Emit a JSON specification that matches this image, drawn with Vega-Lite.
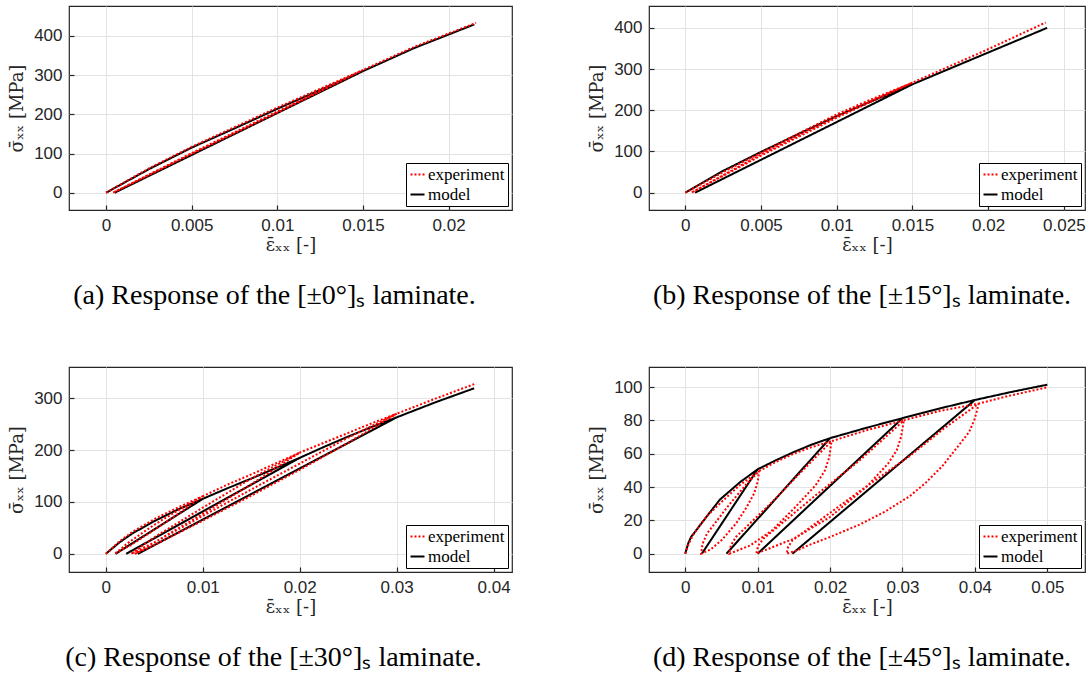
{
  "$schema": "https://vega.github.io/schema/vega-lite/v6.json",
  "background": "white",
  "padding": {"left": 8, "top": 5, "right": 5, "bottom": 5},
  "config": {
    "view": {"stroke": "#262626", "strokeWidth": 1.2},
    "axis": {
      "labelFont": "Liberation Sans", "labelFontSize": 17, "labelColor": "#262626",
      "titleFont": "DejaVu Serif", "titleFontSize": 18, "titleFontWeight": "normal", "titleColor": "#262626",
      "gridColor": "#e3e3e3", "gridWidth": 1, "domain": false,
      "tickColor": "#262626", "tickWidth": 1.2, "tickSize": -5, "labelPadding": 12
    },
    "axisX": {"titlePadding": 3},
    "axisY": {"titlePadding": 7},
    "legend": {
      "orient": "bottom-right", "offset": 4, "strokeColor": "#000", "fillColor": "#fff", "padding": 3,
      "labelFont": "Liberation Serif", "labelFontSize": 17, "labelColor": "#000",
      "symbolType": "stroke", "symbolSize": 196, "symbolStrokeWidth": 2, "rowPadding": 2, "labelOffset": 2
    },
    "title": {"font": "Liberation Serif", "fontSize": 28, "fontWeight": "normal", "color": "#000", "orient": "bottom", "offset": 28}
  },
  "datasets": {
    "a": [
      {"s": "model", "i": 1, "x": 0, "y": 0},
      {"s": "model", "i": 2, "x": 0.0025, "y": 60},
      {"s": "model", "i": 3, "x": 0.005, "y": 115},
      {"s": "model", "i": 4, "x": 0.0075, "y": 164},
      {"s": "model", "i": 5, "x": 0.01, "y": 214},
      {"s": "model", "i": 6, "x": 0.0125, "y": 262},
      {"s": "model", "i": 7, "x": 0.015, "y": 310},
      {"s": "model", "i": 8, "x": 0.0005, "y": 0},
      {"s": "model", "i": 9, "x": 0.015, "y": 310},
      {"s": "model", "i": 10, "x": 0.018, "y": 369},
      {"s": "model", "i": 11, "x": 0.0215, "y": 429},
      {"s": "experiment", "i": 1, "x": 0, "y": 0},
      {"s": "experiment", "i": 2, "x": 0.0025, "y": 62},
      {"s": "experiment", "i": 3, "x": 0.005, "y": 117},
      {"s": "experiment", "i": 4, "x": 0.0075, "y": 167},
      {"s": "experiment", "i": 5, "x": 0.01, "y": 217},
      {"s": "experiment", "i": 6, "x": 0.0125, "y": 265},
      {"s": "experiment", "i": 7, "x": 0.015, "y": 313},
      {"s": "experiment", "i": 8, "x": 0.01, "y": 204},
      {"s": "experiment", "i": 9, "x": 0.005, "y": 99},
      {"s": "experiment", "i": 10, "x": 0.0004, "y": 0},
      {"s": "experiment", "i": 11, "x": 0.005, "y": 101},
      {"s": "experiment", "i": 12, "x": 0.01, "y": 207},
      {"s": "experiment", "i": 13, "x": 0.015, "y": 313},
      {"s": "experiment", "i": 14, "x": 0.018, "y": 372},
      {"s": "experiment", "i": 15, "x": 0.0216, "y": 433}
    ],
    "b": [
      {"s": "model", "i": 1, "x": 0, "y": 0},
      {"s": "model", "i": 2, "x": 0.0025, "y": 53},
      {"s": "model", "i": 3, "x": 0.005, "y": 99},
      {"s": "model", "i": 4, "x": 0.0075, "y": 143},
      {"s": "model", "i": 5, "x": 0.01, "y": 186},
      {"s": "model", "i": 6, "x": 0.0125, "y": 225},
      {"s": "model", "i": 7, "x": 0.015, "y": 263},
      {"s": "model", "i": 8, "x": 0.00064, "y": 0},
      {"s": "model", "i": 9, "x": 0.015, "y": 263},
      {"s": "model", "i": 10, "x": 0.02, "y": 340},
      {"s": "model", "i": 11, "x": 0.0239, "y": 400},
      {"s": "experiment", "i": 1, "x": 0, "y": 0},
      {"s": "experiment", "i": 2, "x": 0.0025, "y": 50},
      {"s": "experiment", "i": 3, "x": 0.005, "y": 97},
      {"s": "experiment", "i": 4, "x": 0.0075, "y": 144},
      {"s": "experiment", "i": 5, "x": 0.01, "y": 190},
      {"s": "experiment", "i": 6, "x": 0.0125, "y": 230},
      {"s": "experiment", "i": 7, "x": 0.015, "y": 267},
      {"s": "experiment", "i": 8, "x": 0.01, "y": 182},
      {"s": "experiment", "i": 9, "x": 0.005, "y": 90},
      {"s": "experiment", "i": 10, "x": 0.0004, "y": 0},
      {"s": "experiment", "i": 11, "x": 0.005, "y": 93},
      {"s": "experiment", "i": 12, "x": 0.01, "y": 185},
      {"s": "experiment", "i": 13, "x": 0.015, "y": 267},
      {"s": "experiment", "i": 14, "x": 0.02, "y": 348},
      {"s": "experiment", "i": 15, "x": 0.0238, "y": 413}
    ],
    "c": [
      {"s": "model", "i": 1, "x": 0, "y": 0},
      {"s": "model", "i": 2, "x": 0.0014, "y": 22},
      {"s": "model", "i": 3, "x": 0.0028, "y": 40},
      {"s": "model", "i": 4, "x": 0.005, "y": 63},
      {"s": "model", "i": 5, "x": 0.0075, "y": 86},
      {"s": "model", "i": 6, "x": 0.01, "y": 106},
      {"s": "model", "i": 7, "x": 0.001, "y": 0},
      {"s": "model", "i": 8, "x": 0.01, "y": 106},
      {"s": "model", "i": 9, "x": 0.0125, "y": 126},
      {"s": "model", "i": 10, "x": 0.015, "y": 145},
      {"s": "model", "i": 11, "x": 0.0175, "y": 165},
      {"s": "model", "i": 12, "x": 0.02, "y": 185},
      {"s": "model", "i": 13, "x": 0.0021, "y": 0},
      {"s": "model", "i": 14, "x": 0.02, "y": 185},
      {"s": "model", "i": 15, "x": 0.0225, "y": 206},
      {"s": "model", "i": 16, "x": 0.025, "y": 226},
      {"s": "model", "i": 17, "x": 0.0275, "y": 245},
      {"s": "model", "i": 18, "x": 0.03, "y": 263},
      {"s": "model", "i": 19, "x": 0.0033, "y": 0},
      {"s": "model", "i": 20, "x": 0.03, "y": 263},
      {"s": "model", "i": 21, "x": 0.034, "y": 292},
      {"s": "model", "i": 22, "x": 0.038, "y": 319},
      {"s": "experiment", "i": 1, "x": 0, "y": 0},
      {"s": "experiment", "i": 2, "x": 0.0014, "y": 24},
      {"s": "experiment", "i": 3, "x": 0.0028, "y": 43},
      {"s": "experiment", "i": 4, "x": 0.005, "y": 67},
      {"s": "experiment", "i": 5, "x": 0.0075, "y": 90},
      {"s": "experiment", "i": 6, "x": 0.01, "y": 111},
      {"s": "experiment", "i": 7, "x": 0.008, "y": 84},
      {"s": "experiment", "i": 8, "x": 0.005, "y": 46},
      {"s": "experiment", "i": 9, "x": 0.0025, "y": 16},
      {"s": "experiment", "i": 10, "x": 0.0009, "y": 0},
      {"s": "experiment", "i": 11, "x": 0.0025, "y": 24},
      {"s": "experiment", "i": 12, "x": 0.005, "y": 56},
      {"s": "experiment", "i": 13, "x": 0.008, "y": 90},
      {"s": "experiment", "i": 14, "x": 0.01, "y": 111},
      {"s": "experiment", "i": 15, "x": 0.0125, "y": 133},
      {"s": "experiment", "i": 16, "x": 0.015, "y": 153},
      {"s": "experiment", "i": 17, "x": 0.0175, "y": 174},
      {"s": "experiment", "i": 18, "x": 0.02, "y": 195},
      {"s": "experiment", "i": 19, "x": 0.015, "y": 134},
      {"s": "experiment", "i": 20, "x": 0.01, "y": 77},
      {"s": "experiment", "i": 21, "x": 0.005, "y": 22},
      {"s": "experiment", "i": 22, "x": 0.0026, "y": 0},
      {"s": "experiment", "i": 23, "x": 0.005, "y": 32},
      {"s": "experiment", "i": 24, "x": 0.01, "y": 89},
      {"s": "experiment", "i": 25, "x": 0.015, "y": 145},
      {"s": "experiment", "i": 26, "x": 0.02, "y": 195},
      {"s": "experiment", "i": 27, "x": 0.0225, "y": 214},
      {"s": "experiment", "i": 28, "x": 0.025, "y": 233},
      {"s": "experiment", "i": 29, "x": 0.0275, "y": 252},
      {"s": "experiment", "i": 30, "x": 0.03, "y": 270},
      {"s": "experiment", "i": 31, "x": 0.025, "y": 214},
      {"s": "experiment", "i": 32, "x": 0.02, "y": 162},
      {"s": "experiment", "i": 33, "x": 0.015, "y": 112},
      {"s": "experiment", "i": 34, "x": 0.01, "y": 64},
      {"s": "experiment", "i": 35, "x": 0.005, "y": 17},
      {"s": "experiment", "i": 36, "x": 0.003, "y": 0},
      {"s": "experiment", "i": 37, "x": 0.005, "y": 22},
      {"s": "experiment", "i": 38, "x": 0.01, "y": 73},
      {"s": "experiment", "i": 39, "x": 0.015, "y": 124},
      {"s": "experiment", "i": 40, "x": 0.02, "y": 174},
      {"s": "experiment", "i": 41, "x": 0.025, "y": 224},
      {"s": "experiment", "i": 42, "x": 0.03, "y": 270},
      {"s": "experiment", "i": 43, "x": 0.034, "y": 299},
      {"s": "experiment", "i": 44, "x": 0.038, "y": 327}
    ],
    "d": [
      {"s": "model", "i": 1, "x": 0, "y": 0},
      {"s": "model", "i": 2, "x": 0.0004, "y": 6},
      {"s": "model", "i": 3, "x": 0.0008, "y": 10},
      {"s": "model", "i": 4, "x": 0.0016, "y": 14.5},
      {"s": "model", "i": 5, "x": 0.003, "y": 22.5},
      {"s": "model", "i": 6, "x": 0.0048, "y": 32.5},
      {"s": "model", "i": 7, "x": 0.0076, "y": 43},
      {"s": "model", "i": 8, "x": 0.01, "y": 50.6},
      {"s": "model", "i": 9, "x": 0.0023, "y": 0},
      {"s": "model", "i": 10, "x": 0.01, "y": 50.6},
      {"s": "model", "i": 11, "x": 0.0125, "y": 56},
      {"s": "model", "i": 12, "x": 0.015, "y": 61},
      {"s": "model", "i": 13, "x": 0.0175, "y": 65.5},
      {"s": "model", "i": 14, "x": 0.02, "y": 69.3},
      {"s": "model", "i": 15, "x": 0.0057, "y": 0},
      {"s": "model", "i": 16, "x": 0.02, "y": 69.3},
      {"s": "model", "i": 17, "x": 0.025, "y": 75.5},
      {"s": "model", "i": 18, "x": 0.03, "y": 81.3},
      {"s": "model", "i": 19, "x": 0.01, "y": 0},
      {"s": "model", "i": 20, "x": 0.03, "y": 81.3},
      {"s": "model", "i": 21, "x": 0.035, "y": 87},
      {"s": "model", "i": 22, "x": 0.04, "y": 92.2},
      {"s": "model", "i": 23, "x": 0.0148, "y": 0},
      {"s": "model", "i": 24, "x": 0.04, "y": 92.2},
      {"s": "model", "i": 25, "x": 0.045, "y": 97},
      {"s": "model", "i": 26, "x": 0.05, "y": 101.4},
      {"s": "experiment", "i": 1, "x": 0, "y": 0},
      {"s": "experiment", "i": 2, "x": 0.0005, "y": 6},
      {"s": "experiment", "i": 3, "x": 0.001, "y": 10.5},
      {"s": "experiment", "i": 4, "x": 0.002, "y": 17},
      {"s": "experiment", "i": 5, "x": 0.003, "y": 22.5},
      {"s": "experiment", "i": 6, "x": 0.005, "y": 31},
      {"s": "experiment", "i": 7, "x": 0.0075, "y": 41},
      {"s": "experiment", "i": 8, "x": 0.0102, "y": 49.5},
      {"s": "experiment", "i": 9, "x": 0.01, "y": 43},
      {"s": "experiment", "i": 10, "x": 0.0095, "y": 36},
      {"s": "experiment", "i": 11, "x": 0.0085, "y": 28},
      {"s": "experiment", "i": 12, "x": 0.007, "y": 18},
      {"s": "experiment", "i": 13, "x": 0.005, "y": 8},
      {"s": "experiment", "i": 14, "x": 0.0035, "y": 2.5},
      {"s": "experiment", "i": 15, "x": 0.0022, "y": 0},
      {"s": "experiment", "i": 16, "x": 0.0024, "y": 6},
      {"s": "experiment", "i": 17, "x": 0.003, "y": 12},
      {"s": "experiment", "i": 18, "x": 0.006, "y": 29},
      {"s": "experiment", "i": 19, "x": 0.0085, "y": 42},
      {"s": "experiment", "i": 20, "x": 0.0102, "y": 49.5},
      {"s": "experiment", "i": 21, "x": 0.0125, "y": 55},
      {"s": "experiment", "i": 22, "x": 0.015, "y": 60},
      {"s": "experiment", "i": 23, "x": 0.0175, "y": 64},
      {"s": "experiment", "i": 24, "x": 0.0202, "y": 67.5},
      {"s": "experiment", "i": 25, "x": 0.0199, "y": 58},
      {"s": "experiment", "i": 26, "x": 0.0193, "y": 50},
      {"s": "experiment", "i": 27, "x": 0.018, "y": 41},
      {"s": "experiment", "i": 28, "x": 0.015, "y": 27},
      {"s": "experiment", "i": 29, "x": 0.012, "y": 14},
      {"s": "experiment", "i": 30, "x": 0.009, "y": 5},
      {"s": "experiment", "i": 31, "x": 0.0061, "y": 0},
      {"s": "experiment", "i": 32, "x": 0.0063, "y": 5},
      {"s": "experiment", "i": 33, "x": 0.007, "y": 10},
      {"s": "experiment", "i": 34, "x": 0.012, "y": 31},
      {"s": "experiment", "i": 35, "x": 0.016, "y": 49},
      {"s": "experiment", "i": 36, "x": 0.0202, "y": 67.5},
      {"s": "experiment", "i": 37, "x": 0.025, "y": 74},
      {"s": "experiment", "i": 38, "x": 0.0302, "y": 80},
      {"s": "experiment", "i": 39, "x": 0.0298, "y": 70},
      {"s": "experiment", "i": 40, "x": 0.0292, "y": 62},
      {"s": "experiment", "i": 41, "x": 0.028, "y": 54},
      {"s": "experiment", "i": 42, "x": 0.025, "y": 40},
      {"s": "experiment", "i": 43, "x": 0.02, "y": 22},
      {"s": "experiment", "i": 44, "x": 0.015, "y": 9},
      {"s": "experiment", "i": 45, "x": 0.0098, "y": 0},
      {"s": "experiment", "i": 46, "x": 0.0101, "y": 5},
      {"s": "experiment", "i": 47, "x": 0.0108, "y": 9},
      {"s": "experiment", "i": 48, "x": 0.018, "y": 35},
      {"s": "experiment", "i": 49, "x": 0.0241, "y": 56},
      {"s": "experiment", "i": 50, "x": 0.0302, "y": 80},
      {"s": "experiment", "i": 51, "x": 0.035, "y": 85.5},
      {"s": "experiment", "i": 52, "x": 0.0405, "y": 90},
      {"s": "experiment", "i": 53, "x": 0.0403, "y": 86},
      {"s": "experiment", "i": 54, "x": 0.0399, "y": 80},
      {"s": "experiment", "i": 55, "x": 0.0392, "y": 73},
      {"s": "experiment", "i": 56, "x": 0.0375, "y": 63.5},
      {"s": "experiment", "i": 57, "x": 0.0355, "y": 52.5},
      {"s": "experiment", "i": 58, "x": 0.0332, "y": 42.5},
      {"s": "experiment", "i": 59, "x": 0.031, "y": 34.5},
      {"s": "experiment", "i": 60, "x": 0.0275, "y": 25},
      {"s": "experiment", "i": 61, "x": 0.0241, "y": 17.5},
      {"s": "experiment", "i": 62, "x": 0.02, "y": 10},
      {"s": "experiment", "i": 63, "x": 0.017, "y": 5},
      {"s": "experiment", "i": 64, "x": 0.0155, "y": 2},
      {"s": "experiment", "i": 65, "x": 0.014, "y": 0},
      {"s": "experiment", "i": 66, "x": 0.0142, "y": 4},
      {"s": "experiment", "i": 67, "x": 0.0148, "y": 8},
      {"s": "experiment", "i": 68, "x": 0.0241, "y": 37.5},
      {"s": "experiment", "i": 69, "x": 0.031, "y": 58.6},
      {"s": "experiment", "i": 70, "x": 0.0356, "y": 74.7},
      {"s": "experiment", "i": 71, "x": 0.0405, "y": 90},
      {"s": "experiment", "i": 72, "x": 0.045, "y": 95},
      {"s": "experiment", "i": 73, "x": 0.05, "y": 99.8}
    ]
  },
  "resolve": {"scale": {"color": "independent", "strokeDash": "independent"}},
  "columns": 2,
  "spacing": {"row": 157, "column": 137},
  "bounds": "flush",
  "concat": [
    {
      "width": 443, "height": 204,
      "data": {"name": "a"},
      "title": {"text": "(a) Response of the [±0°]ₛ laminate.", "dx": -16},
      "mark": {"type": "line", "clip": true, "strokeWidth": 2},
      "encoding": {
        "x": {"field": "x", "type": "quantitative", "title": "ε̄ₓₓ [-]", "scale": {"domain": [-0.00216, 0.0237], "nice": false, "zero": false}, "axis": {"values": [0, 0.005, 0.01, 0.015, 0.02], "format": ".3~f"}},
        "y": {"field": "y", "type": "quantitative", "title": "σ̄ₓₓ [MPa]", "scale": {"domain": [-44, 476], "nice": false, "zero": false}, "axis": {"values": [0, 100, 200, 300, 400]}},
        "order": {"field": "i", "type": "quantitative"},
        "color": {"field": "s", "type": "nominal", "scale": {"domain": ["experiment", "model"], "range": ["#ff0000", "#000000"]}, "legend": {"title": null}},
        "strokeDash": {"field": "s", "type": "nominal", "scale": {"domain": ["experiment", "model"], "range": [[2, 2], [1, 0]]}, "legend": {"title": null}}
      }
    },
    {
      "width": 436, "height": 204,
      "data": {"name": "b"},
      "title": {"text": "(b) Response of the [±15°]ₛ laminate.", "dx": -5},
      "mark": {"type": "line", "clip": true, "strokeWidth": 2},
      "encoding": {
        "x": {"field": "x", "type": "quantitative", "title": "ε̄ₓₓ [-]", "scale": {"domain": [-0.0024, 0.0264], "nice": false, "zero": false}, "axis": {"values": [0, 0.005, 0.01, 0.015, 0.02, 0.025], "format": ".3~f"}},
        "y": {"field": "y", "type": "quantitative", "title": "σ̄ₓₓ [MPa]", "scale": {"domain": [-42, 453], "nice": false, "zero": false}, "axis": {"values": [0, 100, 200, 300, 400]}},
        "order": {"field": "i", "type": "quantitative"},
        "color": {"field": "s", "type": "nominal", "scale": {"domain": ["experiment", "model"], "range": ["#ff0000", "#000000"]}, "legend": {"title": null}},
        "strokeDash": {"field": "s", "type": "nominal", "scale": {"domain": ["experiment", "model"], "range": [[2, 2], [1, 0]]}, "legend": {"title": null}}
      }
    },
    {
      "width": 443, "height": 205,
      "data": {"name": "c"},
      "title": {"text": "(c) Response of the [±30°]ₛ laminate.", "dx": -17},
      "mark": {"type": "line", "clip": true, "strokeWidth": 2},
      "encoding": {
        "x": {"field": "x", "type": "quantitative", "title": "ε̄ₓₓ [-]", "scale": {"domain": [-0.0038, 0.0419], "nice": false, "zero": false}, "axis": {"values": [0, 0.01, 0.02, 0.03, 0.04], "format": ".3~f"}},
        "y": {"field": "y", "type": "quantitative", "title": "σ̄ₓₓ [MPa]", "scale": {"domain": [-35, 360], "nice": false, "zero": false}, "axis": {"values": [0, 100, 200, 300]}},
        "order": {"field": "i", "type": "quantitative"},
        "color": {"field": "s", "type": "nominal", "scale": {"domain": ["experiment", "model"], "range": ["#ff0000", "#000000"]}, "legend": {"title": null}},
        "strokeDash": {"field": "s", "type": "nominal", "scale": {"domain": ["experiment", "model"], "range": [[2, 2], [1, 0]]}, "legend": {"title": null}}
      }
    },
    {
      "width": 436, "height": 205,
      "data": {"name": "d"},
      "title": {"text": "(d) Response of the [±45°]ₛ laminate.", "dx": -5},
      "mark": {"type": "line", "clip": true, "strokeWidth": 2},
      "encoding": {
        "x": {"field": "x", "type": "quantitative", "title": "ε̄ₓₓ [-]", "scale": {"domain": [-0.005, 0.0552], "nice": false, "zero": false}, "axis": {"values": [0, 0.01, 0.02, 0.03, 0.04, 0.05], "format": ".3~f"}},
        "y": {"field": "y", "type": "quantitative", "title": "σ̄ₓₓ [MPa]", "scale": {"domain": [-11, 112], "nice": false, "zero": false}, "axis": {"values": [0, 20, 40, 60, 80, 100]}},
        "order": {"field": "i", "type": "quantitative"},
        "color": {"field": "s", "type": "nominal", "scale": {"domain": ["experiment", "model"], "range": ["#ff0000", "#000000"]}, "legend": {"title": null}},
        "strokeDash": {"field": "s", "type": "nominal", "scale": {"domain": ["experiment", "model"], "range": [[2, 2], [1, 0]]}, "legend": {"title": null}}
      }
    }
  ]
}
